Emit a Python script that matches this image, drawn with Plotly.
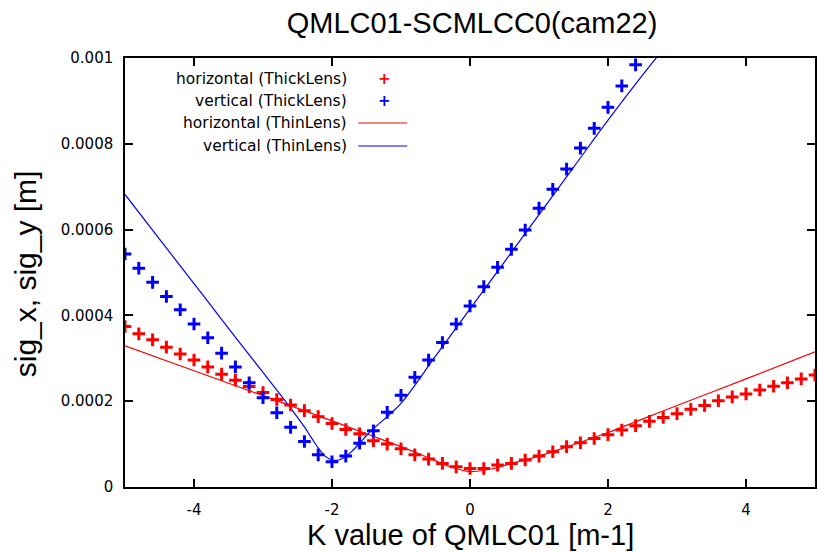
import plotly.graph_objects as go

# ---- data ----
k_thick = [round(-5 + 0.2 * i, 1) for i in range(51)]

h_thick = [3.74e-4, 3.57e-4, 3.43e-4, 3.26e-4, 3.10e-4, 2.96e-4, 2.80e-4, 2.63e-4, 2.49e-4, 2.34e-4,
           2.20e-4, 2.04e-4, 1.91e-4, 1.78e-4, 1.64e-4, 1.48e-4, 1.34e-4, 1.24e-4, 1.08e-4, 1.00e-4,
           0.89e-4, 0.75e-4, 0.65e-4, 0.55e-4, 0.47e-4, 0.43e-4, 0.43e-4, 0.51e-4, 0.55e-4, 0.63e-4,
           0.72e-4, 0.82e-4, 0.94e-4, 1.03e-4, 1.13e-4, 1.22e-4, 1.33e-4, 1.43e-4, 1.53e-4, 1.62e-4,
           1.71e-4, 1.81e-4, 1.90e-4, 2.01e-4, 2.10e-4, 2.17e-4, 2.26e-4, 2.35e-4, 2.43e-4, 2.52e-4,
           2.61e-4]

v_thick = [5.43e-4, 5.10e-4, 4.77e-4, 4.44e-4, 4.13e-4, 3.80e-4, 3.48e-4, 3.12e-4, 2.80e-4, 2.43e-4,
           2.08e-4, 1.73e-4, 1.39e-4, 1.06e-4, 0.75e-4, 0.59e-4, 0.72e-4, 1.02e-4, 1.31e-4, 1.74e-4,
           2.14e-4, 2.56e-4, 2.96e-4, 3.37e-4, 3.80e-4, 4.22e-4, 4.67e-4, 5.12e-4, 5.54e-4, 5.99e-4,
           6.50e-4, 6.94e-4, 7.41e-4, 7.90e-4, 8.36e-4, 8.85e-4, 9.35e-4, 9.84e-4, 1.03e-3, 1.08e-3,
           1.13e-3, 1.18e-3, 1.23e-3, 1.28e-3, 1.33e-3, 1.38e-3, 1.43e-3, 1.48e-3, 1.53e-3, 1.58e-3,
           1.63e-3]

k_thin_h = [-5, -4, -3, -2, -1.5, -1, -0.6, -0.3, 0, 0.3, 0.6, 1, 1.5, 2, 3, 4, 5]
h_thin = [3.29e-4, 2.71e-4, 2.13e-4, 1.54e-4, 1.24e-4, 0.94e-4, 0.68e-4, 0.48e-4, 0.36e-4,
          0.42e-4, 0.55e-4, 0.72e-4, 0.99e-4, 1.27e-4, 1.90e-4, 2.52e-4, 3.15e-4]

k_thin_v = [-5, -4.5, -4, -3.5, -3, -2.6, -2.4, -2.3, -2.2, -2.1, -2.0, -1.9, -1.8, -1.7, -1.6,
            -1.5, -1.4, -1.2, -1, -0.5, 0, 0.5, 1, 1.5, 2, 2.5, 3]
v_thin = [6.82e-4, 5.78e-4, 4.74e-4, 3.70e-4, 2.67e-4, 1.84e-4, 1.40e-4, 1.15e-4, 0.91e-4, 0.72e-4,
          0.63e-4, 0.63e-4, 0.71e-4, 0.85e-4, 1.02e-4, 1.20e-4, 1.36e-4, 1.64e-4, 1.95e-4, 3.05e-4,
          4.15e-4, 5.25e-4, 6.35e-4, 7.45e-4, 8.55e-4, 9.60e-4, 1.06e-3]

x_ticks = [-4, -2, 0, 2, 4]
y_ticks = [0, 0.0002, 0.0004, 0.0006, 0.0008, 0.001]
y_tick_text = ["0", "0.0002", "0.0004", "0.0006", "0.0008", "0.001"]

legend_labels = ["horizontal (ThickLens)", "vertical (ThickLens)",
                 "horizontal (ThinLens)", "vertical (ThinLens)"]
RED = "#ff0000"
BLUE = "#0000ff"

fig = go.Figure()
fig.add_trace(go.Scatter(x=k_thin_h, y=h_thin, mode="lines", line=dict(color=RED, width=1.2),
                         line_shape="spline", name=legend_labels[2]))
fig.add_trace(go.Scatter(x=k_thin_v, y=v_thin, mode="lines", line=dict(color=BLUE, width=1.2),
                         line_shape="spline", name=legend_labels[3]))
fig.add_trace(go.Scatter(x=k_thick, y=h_thick, mode="markers", name=legend_labels[0],
                         marker=dict(symbol="cross-thin", size=9, line=dict(color=RED, width=3))))
fig.add_trace(go.Scatter(x=k_thick, y=v_thick, mode="markers", name=legend_labels[1],
                         marker=dict(symbol="cross-thin", size=9, line=dict(color=BLUE, width=3))))

font_tick = "DejaVu Sans"
TICKFONT = dict(family=font_tick, size=15, color="black")
axis_common = dict(showline=True, linecolor="black", linewidth=1.5, mirror="ticks",
                   ticks="inside", ticklen=8, tickcolor="black", tickwidth=1.5,
                   showgrid=False, zeroline=False, tickfont=TICKFONT)

fig.update_xaxes(range=[-5, 5], tickmode="array", tickvals=x_ticks,
                 ticktext=[str(v) for v in x_ticks], ticklabelstandoff=8, **axis_common)
fig.update_yaxes(range=[0, 0.001], tickmode="array", tickvals=y_ticks, ticktext=y_tick_text,
                 ticklabelstandoff=7, **axis_common)

PW, PH = 692, 429
annotations = [
    dict(x=(471 - 125) / PW, y=(487 - 535) / PH, xref="paper", yref="paper",
         text="K value of QMLC01 [m-1]", showarrow=False, xanchor="center", yanchor="middle",
         font=dict(family="Liberation Sans", size=29, color="black")),
    dict(x=(25 - 125) / PW, y=(487 - 274) / PH, xref="paper", yref="paper",
         text="sig_x, sig_y [m]", showarrow=False, xanchor="center", yanchor="middle",
         textangle=-90, font=dict(family="Liberation Sans", size=30, color="black")),
]

shapes = []
# legend drawn gnuplot-style: text right-aligned, sample on the right
row_px = [79, 101, 123, 146]
row_y = [(487 - p) / PH for p in row_px]
x_text = (350 - 125) / PW
x_sym = (385 - 125) / PW
for i, lab in enumerate(legend_labels):
    annotations.append(dict(x=x_text, y=row_y[i], xref="paper", yref="paper", text=lab,
                            showarrow=False, xanchor="right", yanchor="middle",
                            font=dict(family=font_tick, size=15.5, color="black")))
for i, c in enumerate([RED, BLUE]):
    annotations.append(dict(x=x_sym, y=row_y[i], xref="paper", yref="paper", text="<b>+</b>",
                            showarrow=False, xanchor="center", yanchor="middle",
                            font=dict(family="DejaVu Sans", size=15, color=c)))
for i, c in enumerate([RED, BLUE]):
    shapes.append(dict(type="line", xref="paper", yref="paper",
                       x0=(359 - 125) / PW, x1=(408 - 125) / PW,
                       y0=row_y[i + 2], y1=row_y[i + 2], line=dict(color=c, width=1.2)))

fig.update_layout(
    width=819, height=552,
    margin=dict(l=125, r=2, t=58, b=65),
    paper_bgcolor="white", plot_bgcolor="white",
    showlegend=False,
    title=dict(text="QMLC01-SCMLCC0(cam22)", x=472 / 819, xanchor="center",
               y=1 - 23 / 552, yanchor="middle",
               font=dict(family="Liberation Sans", size=29, color="black")),
    annotations=annotations, shapes=shapes,
)

fig.write_html("out.html")
